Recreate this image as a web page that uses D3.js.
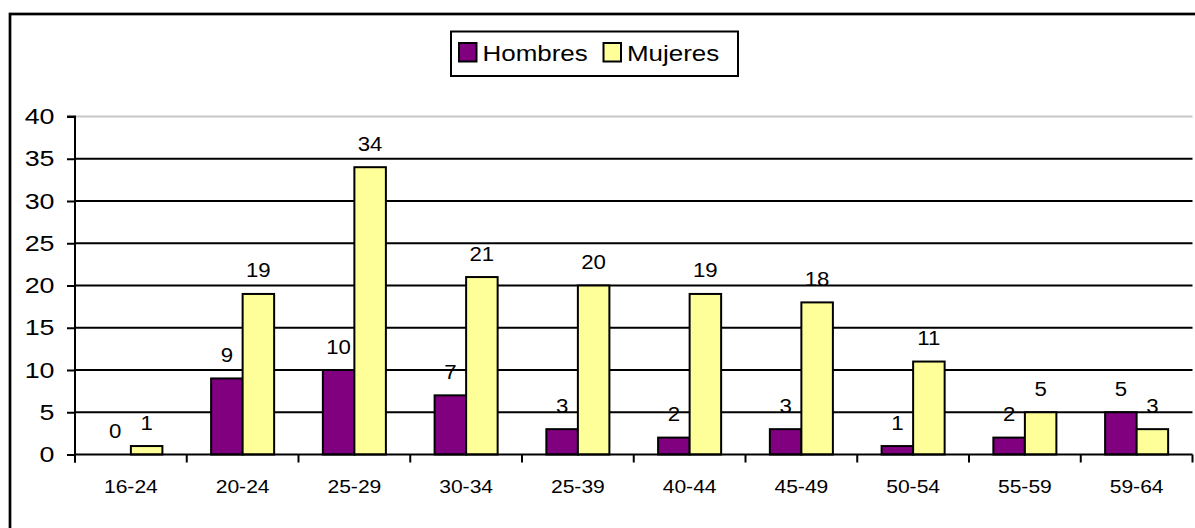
<!DOCTYPE html>
<html>
<head>
<meta charset="utf-8">
<script src="https://cdn.jsdelivr.net/npm/d3@7"></script>
<style>
  html, body { margin: 0; padding: 0; background: #fff; }
  svg { display: block; font-family: "Liberation Sans", Arial, sans-serif; }
</style>
</head>
<body>
<svg id="chart" width="1195" height="528"></svg>
<script>
// Age groups and counts per sex
const categories = ["16-24", "20-24", "25-29", "30-34", "25-39", "40-44", "45-49", "50-54", "55-59", "59-64"];
const seriesNames = ["Hombres", "Mujeres"];
const hombres = [0, 9, 10, 7, 3, 2, 3, 1, 2, 5];
const mujeres = [1, 19, 34, 21, 20, 19, 18, 11, 5, 3];
const yTicks = [0, 5, 10, 15, 20, 25, 30, 35, 40];
const colors = ["#800080", "#FFFF99"];

const seriesValues = [hombres, mujeres];
const FONT = "Liberation Sans, Arial, sans-serif";

const svg = d3.select("#chart");

// outer chart frame (runs past the right and bottom edges)
svg.append("rect")
  .attr("x", 10).attr("y", 14)
  .attr("width", 1200).attr("height", 530)
  .attr("fill", "none").attr("stroke", "#000").attr("stroke-width", 2.7);

const plot = { left: 75, right: 1192.5, top: 116.5, bottom: 454.5 };

const x0 = d3.scaleBand().domain(categories).range([plot.left, plot.right]).padding(0);
const bw = x0.bandwidth();
const x1 = d3.scaleBand().domain(seriesNames).range([bw * 0.218, bw * 0.782]).padding(0);
const y = d3.scaleLinear().domain([0, 40]).range([plot.bottom, plot.top]);

// horizontal gridlines
svg.append("g").selectAll("line")
  .data(yTicks.filter(t => t > 0))
  .join("line")
  .attr("x1", plot.left).attr("x2", plot.right)
  .attr("y1", d => y(d)).attr("y2", d => y(d))
  .attr("stroke", d => d === 40 ? "#c8c8c8" : "#000")
  .attr("stroke-width", 2);

// bars
const groups = svg.append("g").selectAll("g")
  .data(categories)
  .join("g")
  .attr("transform", d => `translate(${x0(d)},0)`);

const cells = (c, i) => seriesNames.map((s, k) => ({ s, v: seriesValues[k][i], k }));

groups.selectAll("rect")
  .data(cells)
  .join("rect")
  .filter(d => d.v > 0)
  .attr("x", d => x1(d.s))
  .attr("y", d => y(d.v))
  .attr("width", x1.bandwidth())
  .attr("height", d => y(0) - y(d.v))
  .attr("fill", d => colors[d.k])
  .attr("stroke", "#000")
  .attr("stroke-width", 2);

// value labels (slightly wide lettering)
groups.selectAll("text")
  .data(cells)
  .join("text")
  .attr("transform", d => `translate(${x1(d.s) + x1.bandwidth() / 2},${y(d.v) - 16.5}) scale(1.14,1)`)
  .attr("text-anchor", "middle")
  .attr("font-size", 19.5)
  .attr("fill", "#000")
  .text(d => d.v);

// y axis
const ySx = 1.22;
const yAxis = d3.axisLeft(y).tickValues(yTicks).tickSize(8);
const gy = svg.append("g").attr("transform", `translate(${plot.left},0)`).call(yAxis);
gy.select(".domain").attr("stroke", "#000").attr("stroke-width", 2)
  .attr("d", `M-8,${plot.top}H0V${plot.bottom + 8}`);
gy.selectAll(".tick line").attr("stroke", "#000").attr("stroke-width", 2);
gy.selectAll(".tick text")
  .attr("font-size", 22).attr("fill", "#000").attr("font-family", FONT)
  .attr("x", -20.5 / ySx)
  .attr("transform", `scale(${ySx},1)`);

// x axis with tick marks between categories
const xAxis = d3.axisBottom(x0).tickSize(0).tickPadding(25);
const gx = svg.append("g").attr("transform", `translate(0,${plot.bottom})`).call(xAxis);
gx.select(".domain").attr("stroke", "#000").attr("stroke-width", 2)
  .attr("d", `M${plot.left},0H${plot.right}`);
gx.selectAll(".tick text")
  .attr("font-size", 18.5).attr("fill", "#000").attr("font-family", FONT)
  .attr("transform", "scale(1.14,1)");
gx.append("g").selectAll("line")
  .data(categories.map(c => x0(c) + bw).concat([plot.left]))
  .join("line")
  .attr("x1", d => d).attr("x2", d => d)
  .attr("y1", 0).attr("y2", 8)
  .attr("stroke", "#000").attr("stroke-width", 2);

// legend
const legend = svg.append("g");
legend.append("rect")
  .attr("x", 451).attr("y", 31.5).attr("width", 287).attr("height", 44.5)
  .attr("fill", "#fff").attr("stroke", "#000").attr("stroke-width", 2);
const legendX = [459, 603.5];
const item = legend.selectAll("g.item").data(seriesNames).join("g")
  .attr("class", "item")
  .attr("transform", (d, i) => `translate(${legendX[i]},0)`);
item.append("rect")
  .attr("x", 0).attr("y", 43).attr("width", 17.5).attr("height", 18.5)
  .attr("fill", (d, i) => colors[i]).attr("stroke", "#000").attr("stroke-width", 2);
item.append("text")
  .attr("transform", "translate(23.5,60.5) scale(1.18,1)")
  .attr("font-size", 22).attr("fill", "#000")
  .text(d => d);
</script>
</body>
</html>
